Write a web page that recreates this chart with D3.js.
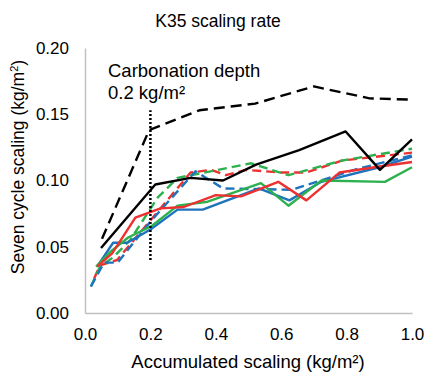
<!DOCTYPE html>
<html><head><meta charset="utf-8">
<script src="https://cdn.jsdelivr.net/npm/d3@7"></script>
<style>body{margin:0;background:#fff}svg{display:block}text{font-family:"Liberation Sans",Arial,sans-serif;fill:#000}</style>
</head><body><svg id="c" width="432" height="377"></svg>
<script>
const titleText = "K35 scaling rate";
const xTicks = [0, 0.2, 0.4, 0.6, 0.8, 1.0];
const yTicks = [0, 0.05, 0.10, 0.15, 0.20];
const carbonationX = 0.2;
const carbonationY = [0.04, 0.153];
const blackDashed = [[0.052,0.056],[0.196,0.138],[0.35,0.153],[0.52,0.158],[0.70,0.171],[0.87,0.162],[1.0,0.161]];
const blackSolid = [[0.049,0.049],[0.215,0.097],[0.323,0.102],[0.422,0.100],[0.523,0.112],[0.655,0.123],[0.797,0.137],[0.902,0.108],[1.0,0.131]];
const blueSolid = [[0.037,0.035],[0.086,0.053],[0.129,0.053],[0.20,0.063],[0.283,0.078],[0.36,0.078],[0.532,0.094],[0.625,0.085],[0.723,0.099],[0.90,0.110],[1.0,0.118]];
const redSolid = [[0.037,0.035],[0.083,0.045],[0.154,0.072],[0.231,0.079],[0.302,0.080],[0.40,0.089],[0.477,0.088],[0.591,0.099],[0.677,0.085],[0.778,0.106],[0.886,0.110],[1.0,0.114]];
const greenSolid = [[0.034,0.035],[0.077,0.046],[0.132,0.057],[0.206,0.066],[0.283,0.081],[0.375,0.084],[0.538,0.098],[0.622,0.081],[0.723,0.100],[0.917,0.099],[1.0,0.110]];
const blueDashed = [[0.018,0.020],[0.058,0.038],[0.10,0.038],[0.20,0.069],[0.338,0.107],[0.422,0.094],[0.631,0.093],[0.837,0.109],[1.0,0.119]];
const greenDashed = [[0.018,0.020],[0.046,0.035],[0.086,0.042],[0.138,0.055],[0.222,0.087],[0.283,0.102],[0.508,0.113],[0.622,0.104],[0.785,0.115],[1.0,0.124]];
const redDashed = [[0.028,0.026],[0.046,0.036],[0.098,0.040],[0.323,0.106],[0.385,0.108],[0.431,0.104],[0.492,0.108],[0.60,0.106],[0.677,0.106],[0.785,0.115],[1.0,0.121]];

const svg = d3.select("#c");
const x = d3.scaleLinear().domain([0,1]).range([85,412]);
const y = d3.scaleLinear().domain([0,0.2]).range([313,48]);

svg.append("text").attr("x",218).attr("y",27).attr("text-anchor","middle").style("font-size","17.5px").text(titleText);

// axes
const xa = svg.append("g").attr("transform","translate(0,313)").call(d3.axisBottom(x).tickValues(xTicks).tickFormat(d3.format(".1f")).tickSize(0).tickPadding(15));
const ya = svg.append("g").attr("transform","translate(85,0)").call(d3.axisLeft(y).tickValues(yTicks).tickFormat(d3.format(".2f")).tickSize(0).tickPadding(16));
[xa,ya].forEach(a=>{a.select(".domain").attr("stroke","#c0c0c0").attr("stroke-width",1.5);a.selectAll("text").style("font-size","17px").attr("fill","#000").style("font-family","'Liberation Sans',Arial,sans-serif");});

svg.append("text").attr("x",248).attr("y",368).attr("text-anchor","middle").style("font-size","18.5px").text("Accumulated scaling (kg/m²)");
const yt = svg.append("text").attr("transform","translate(24,167) rotate(-90)").attr("text-anchor","middle").style("font-size","17.5px");
yt.append("tspan").text("Seven cycle scaling (kg/m");
yt.append("tspan").attr("baseline-shift","super").style("font-size","11px").text("2");
yt.append("tspan").text(")");

svg.append("text").attr("x",108).attr("y",77).style("font-size","18.5px").text("Carbonation depth");
svg.append("text").attr("x",108).attr("y",99).style("font-size","18.5px").text("0.2 kg/m²");

const line = d3.line().x(d=>x(d[0])).y(d=>y(d[1]));
const series = [
  {d:redDashed, c:"#EE3030", dash:"9,5"},
  {d:greenDashed, c:"#2DB04E", dash:"9,5"},
  {d:blueDashed, c:"#1E73BE", dash:"9,5"},
  {d:blueSolid, c:"#1E73BE", dash:null},
  {d:greenSolid, c:"#2DB04E", dash:null},
  {d:redSolid, c:"#EE3030", dash:null},
  {d:blackSolid, c:"#000", dash:null},
  {d:blackDashed, c:"#000", dash:"11,6"}
];
svg.append("g").selectAll("path").data(series).join("path")
  .attr("d",s=>line(s.d)).attr("fill","none").attr("stroke",s=>s.c).attr("stroke-width",2.4)
  .attr("stroke-dasharray",s=>s.dash).attr("stroke-linejoin","round");

svg.append("line").attr("x1",x(carbonationX)).attr("x2",x(carbonationX)).attr("y1",y(carbonationY[0])).attr("y2",y(carbonationY[1]))
  .attr("stroke","#000").attr("stroke-width",2.5).attr("stroke-dasharray","2,2");
</script></body></html>
